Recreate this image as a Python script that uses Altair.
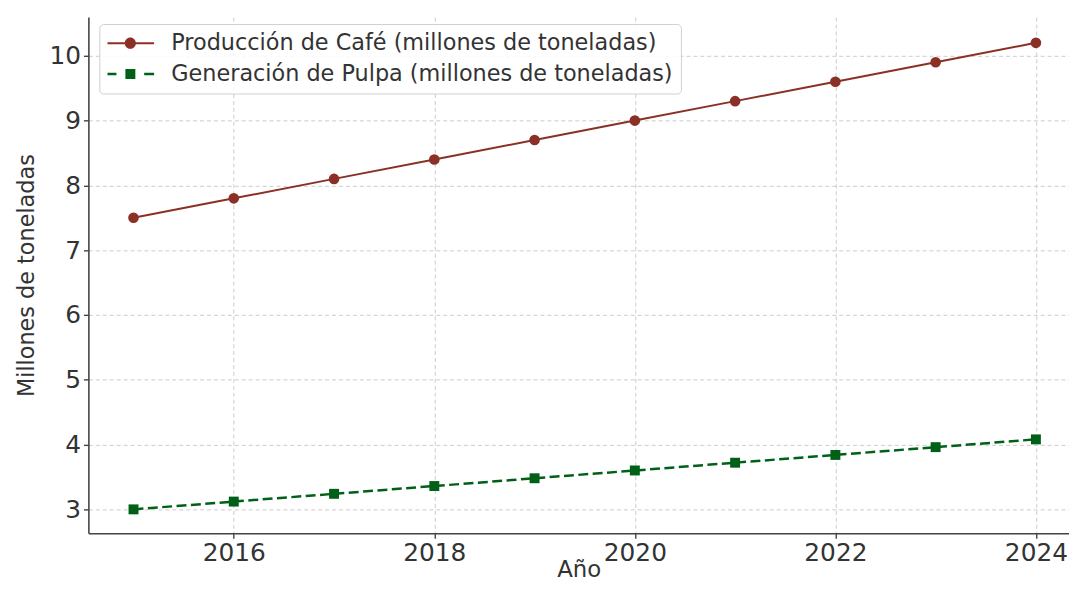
import altair as alt
import pandas as pd

years = [2015, 2016, 2017, 2018, 2019, 2020, 2021, 2022, 2023, 2024]
cafe = [7.5, 7.8, 8.1, 8.4, 8.7, 9.0, 9.3, 9.6, 9.9, 10.2]
pulpa = [3.0, 3.12, 3.24, 3.36, 3.48, 3.6, 3.72, 3.84, 3.96, 4.08]
series = ["Producción de Café (millones de toneladas)",
          "Generación de Pulpa (millones de toneladas)"]
x_ticks = [2016, 2018, 2020, 2022, 2024]
y_ticks = [3, 4, 5, 6, 7, 8, 9, 10]

c_cafe = "#8B3026"
c_pulpa = "#006018"

df = pd.DataFrame({
    "Año": years * 2,
    "valor": cafe + pulpa,
    "serie": [series[0]] * len(years) + [series[1]] * len(years),
})
df_cafe = df[df["serie"] == series[0]]
df_pulpa = df[df["serie"] == series[1]]

xs = alt.Scale(domain=[2014.55, 2024.33], nice=False, zero=False)
ys = alt.Scale(domain=[2.632, 10.597], nice=False, zero=False)

X = alt.X("Año:Q", scale=xs, title="Año",
          axis=alt.Axis(values=x_ticks, format="d"))
Y = alt.Y("valor:Q", scale=ys, title="Millones de toneladas",
          axis=alt.Axis(values=y_ticks, format="d"))

line_cafe = alt.Chart(df_cafe).mark_line(color=c_cafe, strokeWidth=2).encode(x=X, y=Y)
pts_cafe = alt.Chart(df_cafe).mark_point(shape="circle", filled=True, size=115,
                                         color=c_cafe, opacity=1).encode(x=X, y=Y)
line_pulpa = alt.Chart(df_pulpa).mark_line(color=c_pulpa, strokeWidth=2.5,
                                           strokeDash=[10, 4.5]).encode(x=X, y=Y)
pts_pulpa = alt.Chart(df_pulpa).mark_point(shape="square", filled=True, size=100,
                                           color=c_pulpa, opacity=1).encode(x=X, y=Y)

# legend glyphs: line + marker (unit = 11 px, symbol box 22 px)
path_cafe = ("M-1,-0.09L3.27,-0.09L3.27,0.09L-1,0.09Z"
             "M0.58,0A0.51,0.51,0,1,1,1.6,0A0.51,0.51,0,1,1,0.58,0Z")
path_pulpa = ("M-1,-0.114L-0.18,-0.114L-0.18,0.114L-1,0.114Z"
              "M2.36,-0.114L3.27,-0.114L3.27,0.114L2.36,0.114Z"
              "M0.64,-0.46L1.55,-0.46L1.55,0.46L0.64,0.46Z")

legend_layer = alt.Chart(df).mark_point(filled=True, opacity=1, size=484).encode(
    x=X, y=Y,
    color=alt.Color("serie:N", scale=alt.Scale(domain=series, range=[c_cafe, c_pulpa]),
                    legend=alt.Legend(title=None, orient="none", legendX=11, legendY=7,
                                      symbolSize=484, symbolStrokeWidth=0,
                                      labelFontSize=22.5, labelFont="DejaVu Sans",
                                      labelColor="#333333", labelOffset=42,
                                      labelLimit=800,
                                      rowPadding=8, padding=8,
                                      strokeColor="#d0d0d0", cornerRadius=4,
                                      fillColor="rgba(255,255,255,0.85)")),
    shape=alt.Shape("serie:N", scale=alt.Scale(domain=series, range=[path_cafe, path_pulpa]),
                    legend=alt.Legend(title=None, orient="none", legendX=11, legendY=7)),
).transform_filter("false")

chart = alt.layer(line_cafe, line_pulpa, pts_cafe, pts_pulpa, legend_layer).properties(
    width=988, height=520,
    autosize=alt.AutoSizeParams(type="none"),
    padding={"left": 81, "top": 7, "right": 0, "bottom": 48},
).configure_view(stroke=None).configure_axis(
    labelFont="DejaVu Sans", titleFont="DejaVu Sans",
    labelColor="#333333", titleColor="#333333",
    labelFontSize=25, titleFontSize=24,
    titleFontWeight="normal",
    domainColor="#444444", domainWidth=1.6,
    tickColor="#444444", tickWidth=1.4, tickSize=5,
    grid=True, gridColor="#cccccc", gridDash=[4, 3], gridWidth=1,
    labelPadding=3,
).configure_axisY(titleFontSize=22.5, titlePadding=10).configure_axisX(
    titleBaseline="alphabetic", titleY=44, titleFontSize=23)

chart.save("out.html", embed_options={"renderer": "svg", "actions": False})
